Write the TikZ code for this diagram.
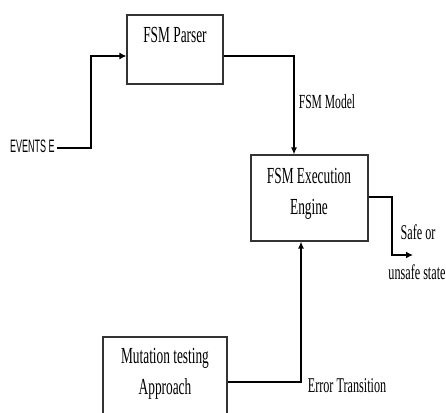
\documentclass[tikz,border=0pt]{standalone}
\usepackage{fontspec}
\setmainfont{Liberation Serif}
\newfontfamily\tnr[FakeStretch=0.58]{Liberation Serif}
\newfontfamily\ars[FakeStretch=0.5]{Liberation Sans}
\usetikzlibrary{arrows.meta}
\begin{document}
\begin{tikzpicture}[x=1pt,y=-1pt,
  box/.style={draw=black!80,line width=1.1pt,inner sep=0pt},
  lbl/.style={inner sep=0pt,anchor=base,font=\tnr\fontsize{23}{28}\selectfont},
  small/.style={inner sep=0pt,anchor=base,font=\tnr\fontsize{20}{24}\selectfont},
  thickline/.style={line width=2.5pt,-{Latex[length=7pt,width=7pt]}},
  thinline/.style={line width=1.3pt,-{Latex[length=7pt,width=6pt]}}]
\useasboundingbox (0,0) rectangle (446,412);
\clip (0,0) rectangle (446,412);
\fill[white] (0,0) rectangle (446,412);
% boxes
\node[box,minimum width=96pt,minimum height=69pt] (parser) at (175,49.5) {};
\node[box,minimum width=117pt,minimum height=86pt] (engine) at (309.5,198) {};
\node[box,minimum width=124pt,minimum height=100pt] (mut) at (165,387) {};
% box texts
\node[lbl] (tparser) at (175,42) {FSM Parser};
\node[lbl] (tengine1) at (309,183) {FSM Execution};
\node[lbl] (tengine2) at (309,214) {Engine};
\node[lbl] (tmut1) at (165,363) {Mutation testing};
\node[lbl] (tmut2) at (165,394) {Approach};
% labels
\node[inner sep=0pt,anchor=base west,font=\ars\fontsize{18}{20}\selectfont] (events) at (10,152) {EVENTS E};
\node[small] (model) at (327,108) {FSM Model};
\node[small,font=\tnr\fontsize{21}{24}\selectfont] (err) at (347,392) {Error Transition};
\node[small,font=\tnr\fontsize{21}{24}\selectfont] (safe1) at (418,239) {Safe or};
\node[small,font=\tnr\fontsize{21}{24}\selectfont] (safe2) at (417,279) {unsafe state};
% connector ends
\coordinate (evend) at (57,148);
\coordinate (out) at (413,255);
% connectors
\draw[thickline] (evend) -- (91,148) -- (91,56) -- (parser.west |- 0,56);
\draw[thinline] (parser.east |- 0,56) -- (294,56) -- (engine.north -| 294,0);
\draw[thickline] (engine.east |- 0,197) -- (392,197) -- (392,255) -- (out);
\draw[thinline] (mut.east |- 0,382) -- (301,382) -- (engine.south -| 301,0);
\end{tikzpicture}
\end{document}
